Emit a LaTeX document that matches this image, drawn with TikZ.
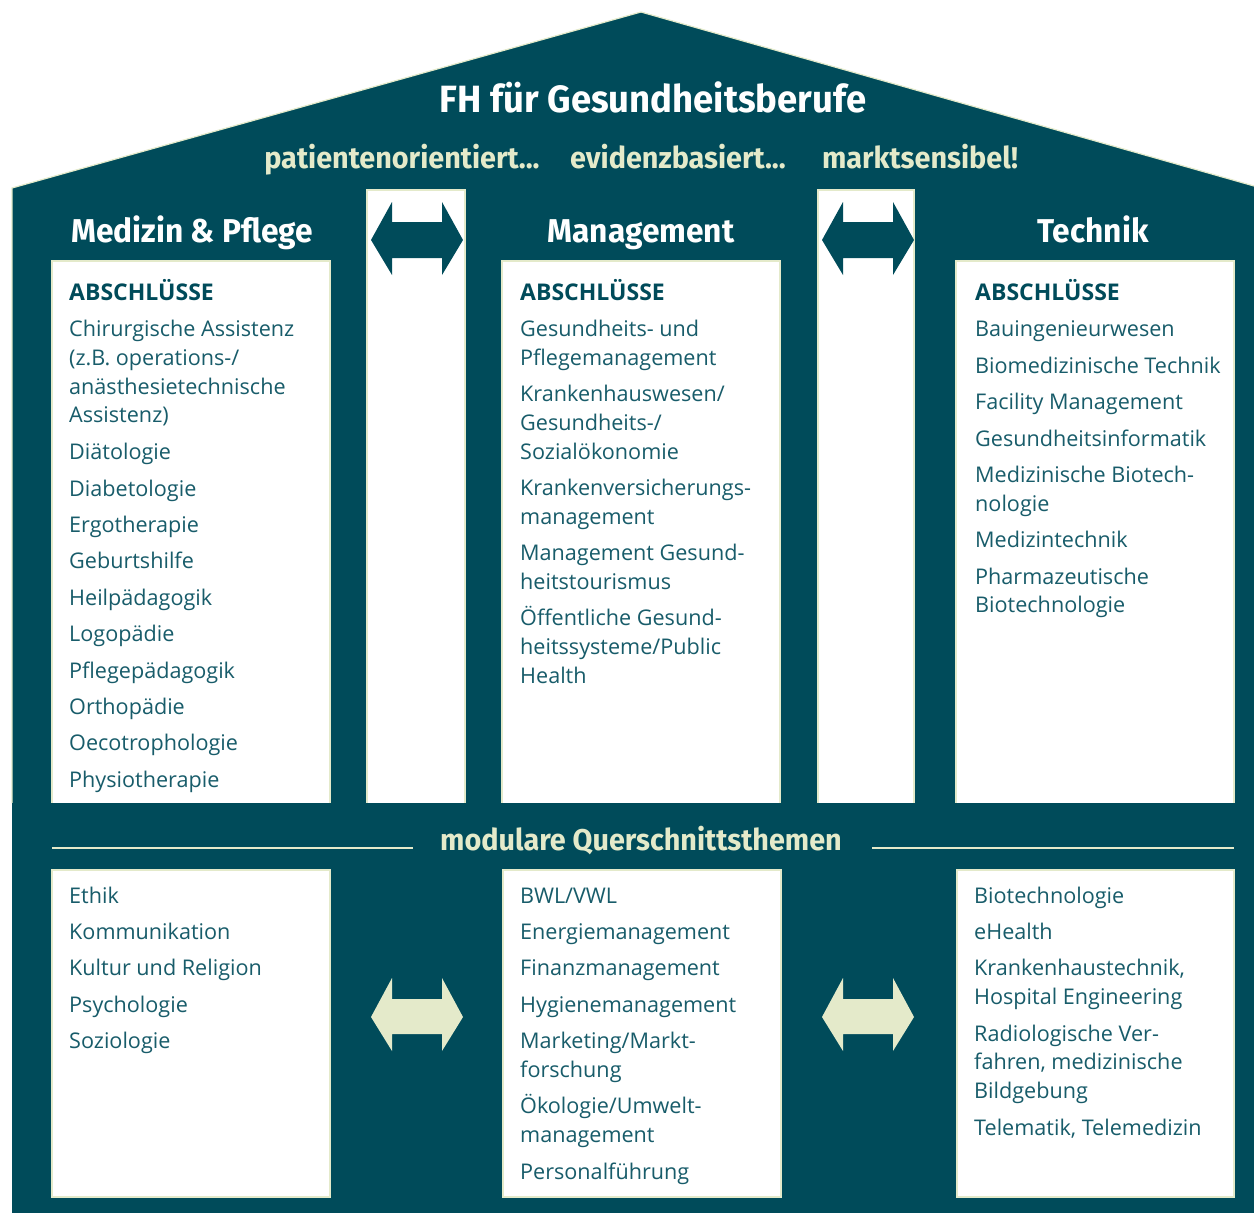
\documentclass[tikz,border=0pt]{standalone}
\usepackage{fontspec}
\setmainfont{Open Sans}
\newfontfamily\headfont[FakeStretch=0.96]{Fira Sans}
\newfontfamily\bodyfont{Open Sans}
\definecolor{housebg}{RGB}{0,75,90}
\definecolor{cream}{RGB}{228,234,202}
\definecolor{itemtxt}{RGB}{24,92,106}
\begin{document}
\begin{tikzpicture}[x=1pt,y=-1pt,
  panel/.style={fill=white,draw=cream,line width=2.5pt},
  item/.style={anchor=base west,inner sep=0pt,text=itemtxt,
    font=\bodyfont\fontsize{21.6}{26}\selectfont},
  abslabel/.style={anchor=base west,inner sep=0pt,text=housebg,
    font=\bodyfont\bfseries\fontsize{23}{26}\selectfont},
  colhead/.style={anchor=base,inner sep=0pt,text=white,
    font=\headfont\bfseries\fontsize{33}{36}\selectfont},
  motto/.style={anchor=base,inner sep=0pt,text=cream,
    font=\headfont\bfseries\fontsize{30}{32}\selectfont},
  twoarrow/.style={line join=miter}]
\useasboundingbox (0,0) rectangle (1254,1213);

% house body and roof
\fill[housebg] (12,1213) -- (12,188) -- (641,12) -- (1254,186) -- (1254,1213) -- cycle;
\draw[cream,line width=1.2pt] (12,803) -- (12,188) -- (641,12) -- (1254,186);

% upper panels (open at the bottom)
\draw[panel] (52,803) -- (52,261) -- (330,261) -- (330,803);
\draw[panel] (367,803) -- (367,190) -- (465,190) -- (465,803);
\draw[panel] (502,803) -- (502,261) -- (780,261) -- (780,803);
\draw[panel] (818,803) -- (818,190) -- (914,190) -- (914,803);
\draw[panel] (956,803) -- (956,261) -- (1234,261) -- (1234,803);
\fill[white] (53.5,262.5) rectangle (328.5,805);
\fill[white] (368.5,191.5) rectangle (463.5,805);
\fill[white] (503.5,262.5) rectangle (778.5,805);
\fill[white] (819.5,191.5) rectangle (912.5,805);
\fill[white] (957.5,262.5) rectangle (1232.5,805);

% lower band
\fill[housebg] (12,803) rectangle (1254,1213);

% lower panels
\draw[panel] (52,870) rectangle (330,1197);
\draw[panel] (503,870) rectangle (781,1197);
\draw[panel] (957,870) rectangle (1234,1197);

% divider lines
\draw[cream,line width=2.5pt] (52,848) -- (413,848);
\draw[cream,line width=2.5pt] (872,848) -- (1234,848);

% double arrows
\foreach \dx in {0,451}{
  \fill[housebg,twoarrow,xshift=\dx pt] (371,240) -- (392,202) -- (392,222) -- (442,222) -- (442,202)
     -- (463,240) -- (442,275) -- (442,258) -- (392,258) -- (392,275) -- cycle;
  \fill[cream,twoarrow,xshift=\dx pt] (371,1017) -- (392,978) -- (392,999) -- (442,999) -- (442,978)
     -- (463,1017) -- (442,1051) -- (442,1034) -- (392,1034) -- (392,1051) -- cycle;
}

% headings
\node[anchor=base,inner sep=0pt,text=white,font=\headfont\bfseries\fontsize{38}{40}\selectfont]
  (title) at (653,112) {FH für Gesundheitsberufe};
\node[motto] (m1) at (402,168) {patientenorientiert...};
\node[motto] (m2) at (678,168) {evidenzbasiert...};
\node[motto] (m3) at (920,168) {marktsensibel!};
\node[colhead] (h1) at (192,242) {Medizin \& Pflege};
\node[colhead] (h2) at (641,242) {Management};
\node[colhead] (h3) at (1093,242) {Technik};
\node[anchor=base,inner sep=0pt,text=cream,font=\headfont\bfseries\fontsize{30}{32}\selectfont]
  (qs) at (641,850) {modulare Querschnittsthemen};

% degree lists
\node[abslabel] (a1) at (69,300) {ABSCHLÜSSE};
\node[abslabel] (a2) at (520,300) {ABSCHLÜSSE};
\node[abslabel] (a3) at (975,300) {ABSCHLÜSSE};

\foreach \y/\t in {328/Chirurgische Assistenz,357/{(z.B. operations-/},386/anästhesietechnische,
  414/Assistenz),451/Diätologie,488/Diabetologie,524/Ergotherapie,560/Geburtshilfe,
  597/Heilpädagogik,633/Logopädie,670/Pflegepädagogik,706/Orthopädie,742/Oecotrophologie,
  779/Physiotherapie}
  \node[item] (l\y) at (69,\y+8.5) {\t};

\foreach \y/\t in {328/Gesundheits- und,357/Pflegemanagement,393/{Krankenhauswesen/},
  422/{Gesundheits-/},451/Sozialökonomie,487/Krankenversicherungs-,516/management,
  552/Management Gesund-,581/heitstourismus,617/Öffentliche Gesund-,646/{heitssysteme/Public},
  675/Health}
  \node[item] (c\y) at (520,\y+8.5) {\t};

\foreach \y/\t in {328/Bauingenieurwesen,365/Biomedizinische Technik,401/Facility Management,
  438/Gesundheitsinformatik,474/Medizinische Biotech-,503/nologie,539/Medizintechnik,
  576/Pharmazeutische,604/Biotechnologie}
  \node[item] (r\y) at (975,\y+8.5) {\t};

% cross-cutting topics
\foreach \y/\t in {895/Ethik,931/Kommunikation,967/Kultur und Religion,1004/Psychologie,
  1040/Soziologie}
  \node[item] (ql\y) at (69,\y+8.5) {\t};

\foreach \y/\t in {895/{BWL/VWL},931/Energiemanagement,967/Finanzmanagement,
  1004/Hygienemanagement,1040/{Marketing/Markt-},1069/forschung,1105/{Ökologie/Umwelt-},
  1134/management,1171/Personalführung}
  \node[item] (qc\y) at (520,\y+8.5) {\t};

\foreach \y/\t in {895/Biotechnologie,931/eHealth,967/{Krankenhaustechnik,},
  996/Hospital Engineering,1033/Radiologische Ver-,1061/{fahren, medizinische},
  1090/Bildgebung,1127/{Telematik, Telemedizin}}
  \node[item] (qr\y) at (974,\y+8.5) {\t};
\end{tikzpicture}
\end{document}
